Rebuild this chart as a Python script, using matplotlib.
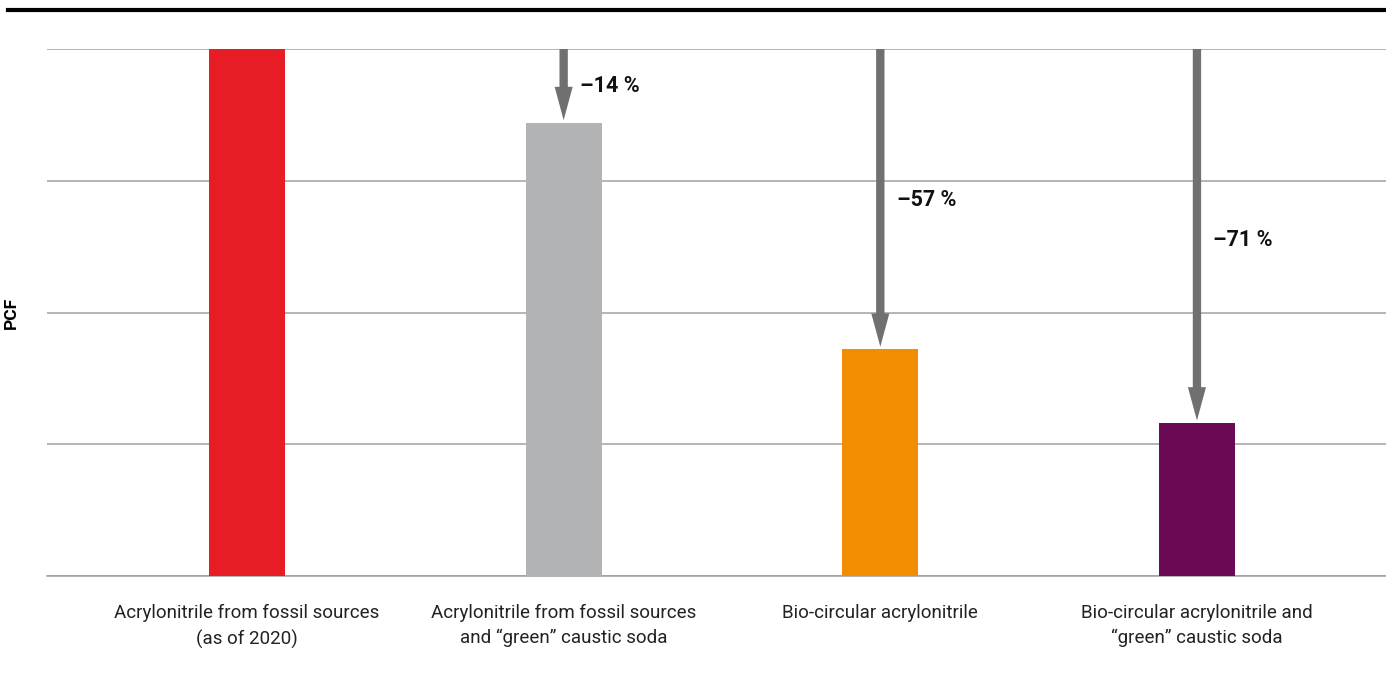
import matplotlib
matplotlib.use("Agg")
import matplotlib.pyplot as plt
from matplotlib.patches import FancyArrowPatch

categories = [
    "Acrylonitrile from fossil sources\n(as of 2020)",
    "Acrylonitrile from fossil sources\nand \u201cgreen\u201d caustic soda",
    "Bio-circular acrylonitrile",
    "Bio-circular acrylonitrile and\n\u201cgreen\u201d caustic soda",
]
pcf = [100, 86, 43, 29]
reductions = ["\u201314 %", "\u201357 %", "\u201371 %"]
label_y = [93, 71.3, 63.8]
colors = ["#e81c24", "#b1b3b4", "#f28c00", "#6a0a55"]

fig = plt.figure(figsize=(13.86, 6.75), dpi=100)
ax = fig.add_axes([47 / 1386, 99 / 675, 1339 / 1386, 527 / 675])

x = list(range(len(categories)))
ax.bar(x, pcf, width=0.24, color=colors, zorder=3)

ax.set_ylim(0, 100)
ax.set_xlim(-0.6316, 3.597)
ax.set_yticks([0, 25, 50, 75, 100])
ax.set_yticklabels([])
ax.tick_params(axis="y", length=0)
ax.grid(axis="y", color="#a0a0a0", linewidth=1.1, zorder=0)
for s in ["top", "right", "left"]:
    ax.spines[s].set_visible(False)
ax.spines["bottom"].set_color("#a0a0a0")
ax.spines["bottom"].set_linewidth(1.1)

ax.set_xticks(x)
ax.set_xticklabels(categories, fontsize=13.5, family="Roboto",
                   color="#222222", linespacing=1.5)
ax.tick_params(axis="x", length=0, pad=20)

ax.set_ylabel("PCF", fontsize=12.5, fontweight="bold", family="Roboto")
ax.yaxis.set_label_coords(-0.021, 0.5)

# arrows from the fossil baseline down to each bar
for i in range(1, len(pcf)):
    arr = FancyArrowPatch((i, pcf[0]), (i, pcf[i] + 0.5),
                          arrowstyle="simple,head_length=24,head_width=13,tail_width=6",
                          mutation_scale=1, color="#6f7070", lw=0,
                          shrinkA=0, shrinkB=0, zorder=4, clip_on=False)
    ax.add_patch(arr)
    ax.text(i + 0.052, label_y[i - 1], reductions[i - 1], fontsize=15.5, fontweight="bold",
            family="Roboto", va="center", ha="left", color="#111111")

# heavy rule at the top
fig.add_artist(plt.Line2D([8 / 1386, 1], [1 - 10 / 675, 1 - 10 / 675],
                          color="black", linewidth=3, transform=fig.transFigure))

fig.savefig("out.png", dpi=100)
